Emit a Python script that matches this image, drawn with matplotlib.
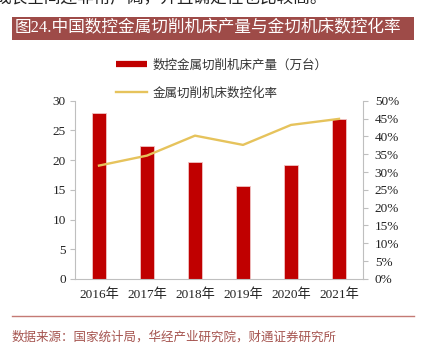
import matplotlib.pyplot as plt
import numpy as np
from matplotlib.lines import Line2D
from matplotlib.patches import Rectangle
from matplotlib.ticker import FuncFormatter

plt.rcParams['font.family'] = ['Liberation Serif', 'Noto Sans CJK SC']

# data
years = ['2016年', '2017年', '2018年', '2019年', '2020年', '2021年']
output = [28.0, 22.3, 19.6, 15.6, 19.2, 26.9]          # 万台
nc_rate = [0.318, 0.346, 0.402, 0.376, 0.432, 0.449]   # 数控化率

bar_label = '数控金属切削机床产量（万台）'
line_label = '金属切削机床数控化率'
title = '图24.中国数控金属切削机床产量与金切机床数控化率'
source = '数据来源：国家统计局，华经产业研究院，财通证券研究所'
top_text = '成长空间还非常广阔，并且确定性也比较高。'

BAR_C = '#C00000'
LINE_C = '#E6C35C'
BAND_C = '#9E4B48'
GRID_C = '#BFBFBF'
CJK = ['Noto Sans CJK SC', 'DejaVu Sans']

fig = plt.figure(figsize=(4.23, 3.49), dpi=100)
ax = fig.add_axes([0.1773, 0.2006, 0.6809, 0.5109])
ax2 = ax.twinx()

x = np.arange(len(years))
ax.bar(x, output, width=0.31, color=BAR_C, edgecolor='#F0C4C4', linewidth=0.6, zorder=2)
ax2.plot(x, nc_rate, color=LINE_C, lw=1.7, zorder=3)

ax.set_xlim(-0.5, len(years) - 0.5)
ax.set_ylim(0, 30)
ax.set_yticks(np.arange(0, 31, 5))
ax2.set_ylim(0, 0.5)
ax2.set_yticks(np.arange(0, 0.51, 0.05))
ax2.yaxis.set_major_formatter(FuncFormatter(lambda v, p: f'{v*100:.0f}%'))

ax.set_xticks(x)
ax.set_xticklabels(years)

# only left, bottom and right spines, light grey
for a in (ax, ax2):
    for s in a.spines.values():
        s.set_visible(False)
    a.tick_params(colors='#222222', labelsize=9.5, length=3.5, color=GRID_C, width=0.8)
ax.spines['left'].set_visible(True)
ax.spines['left'].set_color(GRID_C)
ax.spines['bottom'].set_visible(True)
ax.spines['bottom'].set_color(GRID_C)
ax2.spines['right'].set_visible(True)
ax2.spines['right'].set_color(GRID_C)
ax.tick_params(axis='x', length=0, pad=7)
ax.tick_params(axis='y', pad=3)
ax2.tick_params(axis='y', pad=5)

handles = [Line2D([], [], color=BAR_C, lw=4.5, solid_capstyle='butt'),
           Line2D([], [], color=LINE_C, lw=1.7)]
fig.legend(handles, [bar_label, line_label], loc='upper left',
           bbox_to_anchor=(0.274, 0.8324), frameon=False, borderpad=0,
           borderaxespad=0, handlelength=2.5, handletextpad=0.45,
           labelspacing=1.2, prop={'family': CJK, 'size': 9},
           labelcolor='#333333')

# title band
fig.patches.append(Rectangle((0.0284, 0.885), 0.9503, 0.066, transform=fig.transFigure,
                             facecolor=BAND_C, edgecolor='none'))
fig.text(0.034, 0.918, title, color='white', fontsize=12, va='center', ha='left',
         family=['Liberation Serif', 'Noto Sans CJK SC'])

# cut-off paragraph line above
fig.text(-0.014, 1.003, top_text, color='#222222', fontsize=12, va='center',
         ha='left', family=CJK)

# bottom rule and source
fig.add_artist(Line2D([0.0284, 0.9787], [0.0946, 0.0946], transform=fig.transFigure,
                      color='#C47A74', lw=1.0))
fig.text(0.028, 0.034, source, color='#A5544F', fontsize=9, va='center', ha='left',
         family=CJK)

fig.savefig('out.png', dpi=100)
